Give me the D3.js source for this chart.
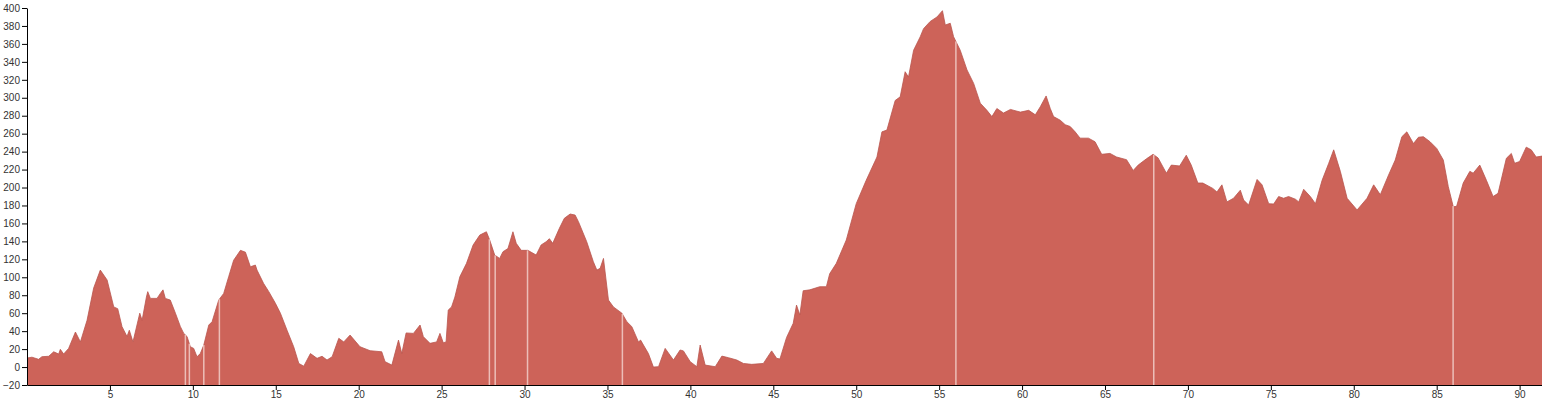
<!DOCTYPE html>
<html>
<head>
<meta charset="utf-8">
<script src="https://cdn.jsdelivr.net/npm/d3@7"></script>
<style>
  html, body { margin: 0; padding: 0; background: #fff; }
  svg { display: block; }
  .axis text { font-family: "Liberation Sans", Arial, sans-serif; font-size: 10px; fill: #333; }
  .axis path, .axis line { stroke: #000; }
</style>
</head>
<body>
<svg id="chart" width="1542" height="407"></svg>
<script>
// distance along route (km)
const distanceKm = [
  0.0, 0.3, 0.7, 0.9, 1.31, 1.61, 1.91, 2.01, 2.21, 2.51, 2.92, 3.22, 3.62, 4.02, 4.42, 4.83,
  5.23, 5.47, 5.73, 6.03, 6.17, 6.39, 6.8, 6.94, 7.2, 7.28, 7.44, 7.84, 8.04, 8.2, 8.34, 8.64,
  8.95, 9.25, 9.45, 9.65, 9.85, 10.05, 10.25, 10.45, 10.66, 10.96, 11.16, 11.56, 11.86, 12.16,
  12.46, 12.87, 13.17, 13.47, 13.77, 13.87, 14.27, 14.58, 14.98, 15.28, 15.68, 16.08, 16.39,
  16.69, 17.09, 17.49, 17.79, 18.09, 18.4, 18.8, 19.1, 19.48, 20.08, 20.69, 21.39, 21.59, 22.0,
  22.4, 22.6, 22.86, 23.3, 23.7, 23.9, 24.3, 24.7, 24.9, 25.1, 25.27, 25.4, 25.6, 25.8, 26.1,
  26.5, 26.9, 27.3, 27.7, 27.9, 28.2, 28.5, 28.7, 29.0, 29.3, 29.5, 29.8, 30.2, 30.7, 31.0,
  31.3, 31.5, 31.7, 32.1, 32.4, 32.75, 33.05, 33.25, 33.75, 34.15, 34.36, 34.56, 34.76, 35.06,
  35.36, 35.87, 36.17, 36.47, 36.87, 37.0, 37.17, 37.47, 37.77, 38.08, 38.48, 38.98, 39.38,
  39.58, 39.99, 40.39, 40.59, 40.89, 41.5, 41.9, 42.3, 42.8, 43.2, 43.7, 44.4, 44.9, 45.2, 45.4,
  45.8, 46.2, 46.4, 46.6, 46.8, 47.2, 47.8, 48.2, 48.4, 48.8, 49.4, 50.0, 50.6, 51.25, 51.55,
  51.85, 52.35, 52.65, 52.95, 53.15, 53.46, 53.86, 54.06, 54.46, 54.87, 55.2, 55.37, 55.67,
  55.87, 56.27, 56.68, 57.08, 57.48, 57.88, 58.18, 58.48, 58.88, 59.3, 59.9, 60.4, 60.8, 61.1,
  61.45, 61.7, 61.9, 62.3, 62.6, 62.9, 63.2, 63.5, 64.0, 64.4, 64.8, 65.3, 65.7, 66.3, 66.7,
  67.0, 67.5, 67.9, 68.2, 68.7, 69.0, 69.5, 69.9, 70.2, 70.6, 70.9, 71.5, 71.75, 72.05, 72.35,
  72.75, 73.16, 73.36, 73.66, 74.17, 74.47, 74.87, 75.17, 75.47, 75.77, 76.07, 76.48, 76.68,
  76.98, 77.38, 77.69, 78.09, 78.49, 78.79, 79.19, 79.6, 80.2, 80.8, 81.2, 81.6, 82.1, 82.5,
  82.9, 83.2, 83.6, 83.9, 84.2, 84.6, 85.0, 85.4, 85.7, 86.0, 86.2, 86.6, 87.0, 87.2, 87.6,
  88.0, 88.4, 88.7, 89.2, 89.5, 89.7, 90.0, 90.4, 90.7, 91.0, 91.35
];
// elevation (m)
const elevationM = [
  10, 11, 8.6, 11.5, 12, 17, 14.5, 19.7, 14.5, 20.8, 39, 28, 52, 88, 108, 97,
  67, 65, 45, 34, 41, 28, 60, 52, 78, 84, 76.5, 76.5, 82, 86, 76.5, 74.6,
  60, 45, 37.5, 34, 22.6, 20.8, 11.5, 15, 24.5, 46.8, 50.5, 74.6, 82, 100.6,
  119, 130, 128, 111.7, 113.6, 108, 93, 84, 71, 60, 41, 22.6, 4,
  1, 15, 9.7, 12, 7.8, 11.5, 32, 28, 35.6, 22.6, 18.2, 17, 6, 2.2,
  30, 15, 38, 37.5, 46.8, 33.8, 26.4, 28, 37.5, 27, 28, 63.5, 67, 78, 100.6,
  115.5, 136, 147, 150.7, 141.5, 124.8, 121, 128.5, 132, 150.7, 137.8, 130, 130, 124.8, 136,
  139.6, 143, 137.8, 154.5, 165.7, 170.5, 169.3, 162, 139.6, 117.3, 108, 110, 121, 74.6,
  67, 60, 50.5, 45, 28, 30, 24.5, 15, 0, 0.4, 20.8, 7.8, 19,
  18, 6, 0.4, 24.5, 2.2, 0.4, 12.2, 10.4, 7.8, 4, 3, 4, 18, 9.7, 9,
  33, 48.7, 69, 58, 85, 86, 89.5, 89.5, 104, 115.5, 141.5, 182, 208, 234, 262,
  264, 297, 301, 329, 323, 353, 368, 377, 385, 390, 397, 381, 383,
  368, 353, 331, 316, 294, 286, 279, 288, 283, 287, 284, 286, 281, 290,
  302, 288, 279, 275, 270, 268, 262, 255, 255, 251, 237, 238, 234, 231, 219,
  225, 232, 237, 233, 216, 225, 224, 236, 225, 205, 205, 199, 195, 203, 184,
  188, 197, 186, 180.5, 209, 203, 182, 181.6, 190, 188, 190, 187, 184,
  198, 190, 182, 208, 227, 242, 218, 188, 175, 188, 203, 192, 214, 230.6,
  256.6, 262, 249, 256, 256.6, 251, 243.6, 230.6, 201, 178.6, 179, 205, 218, 216, 225,
  208, 190, 193.5, 232.5, 238, 227, 229, 245, 242, 234, 235
];
// small gaps in the profile (km)
const gapKm = [9.55, 9.79, 10.66, 11.6, 27.88, 28.23, 30.18, 35.9, 56.01, 67.94, 85.99];
// axis ticks
const xTicks = [5, 10, 15, 20, 25, 30, 35, 40, 45, 50, 55, 60, 65, 70, 75, 80, 85, 90];
const yTicks = [-20, 0, 20, 40, 60, 80, 100, 120, 140, 160, 180, 200, 220, 240, 260, 280, 300, 320, 340, 360, 380, 400];
const xDomain = [0, 91.35];
const yDomain = [-20, 400];

const W = 1542, H = 407;
const margin = { top: 8, right: 0, bottom: 22, left: 27 };
const svg = d3.select("#chart");
const g = svg.append("g").attr("transform", `translate(${margin.left},${margin.top})`);
const iw = W - margin.left - margin.right;
const ih = H - margin.top - margin.bottom;

const x = d3.scaleLinear().domain(xDomain).range([0, iw]);
const y = d3.scaleLinear().domain(yDomain).range([ih, 0]);

const data = distanceKm.map((d, i) => ({ d, e: elevationM[i] }));

const area = d3.area()
  .x(p => x(p.d))
  .y0(y(yDomain[0]))
  .y1(p => y(p.e));
const line = d3.line().x(p => x(p.d)).y(p => y(p.e));

g.append("path").datum(data).attr("d", area).attr("fill", "#cd6359");
g.append("path").datum(data).attr("d", line)
  .attr("fill", "none").attr("stroke", "#b9564e").attr("stroke-width", 0.8);

// gaps
g.selectAll("rect.gap").data(gapKm).join("rect")
  .attr("class", "gap")
  .attr("x", d => x(d) - 0.75)
  .attr("width", 1.5)
  .attr("y", d => {
    // top of profile at this distance
    const i = d3.bisector(p => p.d).left(data, d);
    const a = data[Math.max(0, i - 1)], b = data[Math.min(data.length - 1, i)];
    const t = b.d === a.d ? 0 : (d - a.d) / (b.d - a.d);
    return y(a.e + t * (b.e - a.e));
  })
  .attr("height", d => {
    const i = d3.bisector(p => p.d).left(data, d);
    const a = data[Math.max(0, i - 1)], b = data[Math.min(data.length - 1, i)];
    const t = b.d === a.d ? 0 : (d - a.d) / (b.d - a.d);
    return y(yDomain[0]) - y(a.e + t * (b.e - a.e));
  })
  .attr("fill", "#f4d4cf").attr("opacity", 0.8);

g.append("g").attr("class", "axis")
  .attr("transform", `translate(0,${ih})`)
  .call(d3.axisBottom(x).tickValues(xTicks).tickSize(5).tickSizeOuter(0).tickPadding(1));

g.append("g").attr("class", "axis")
  .call(d3.axisLeft(y).tickValues(yTicks).tickSize(5).tickSizeOuter(0).tickPadding(2));
</script>
</body>
</html>
